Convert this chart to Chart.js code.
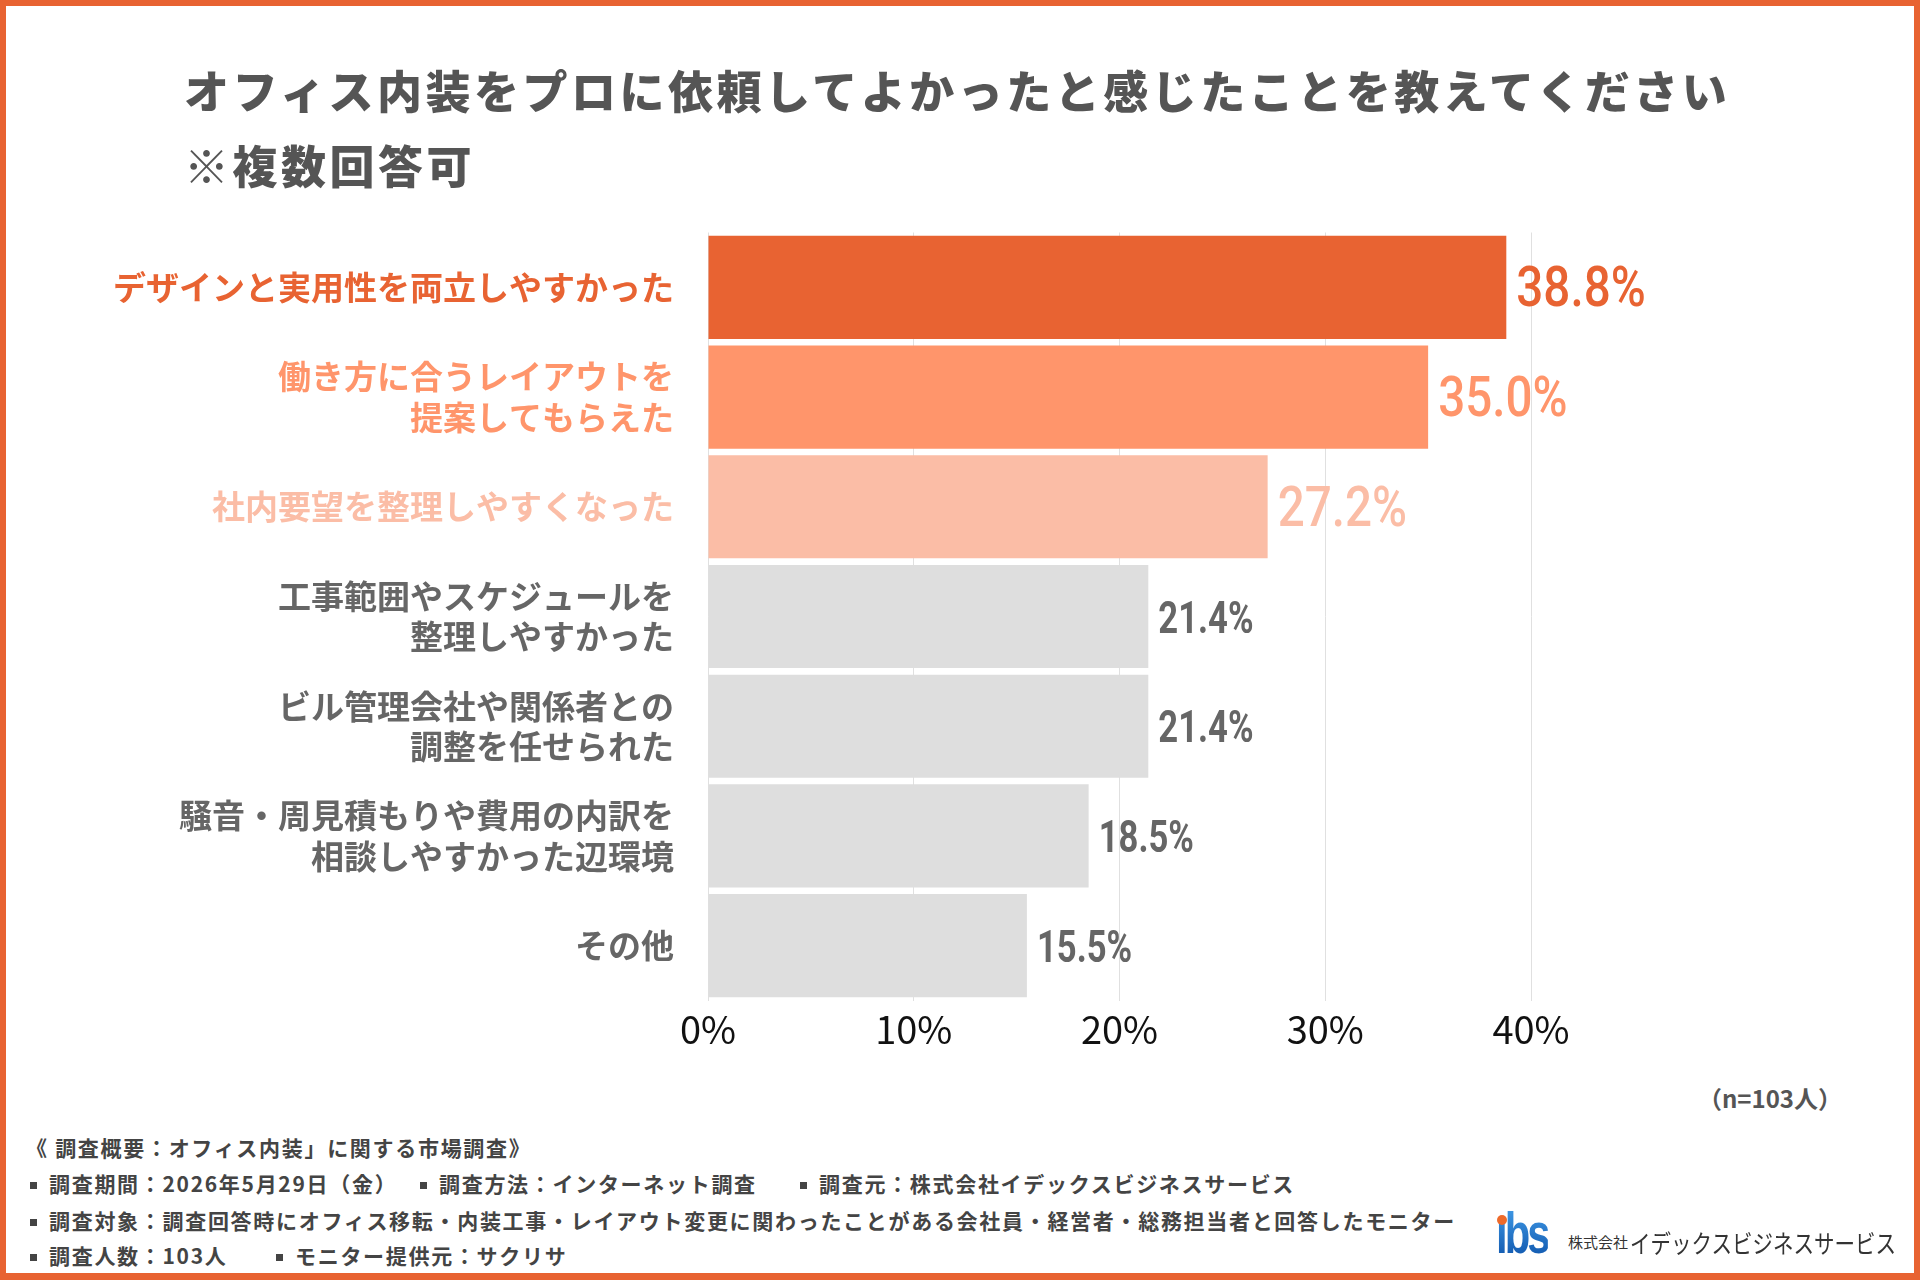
<!DOCTYPE html>
<html lang="ja"><head><meta charset="utf-8">
<script src="https://cdn.jsdelivr.net/npm/chart.js@4.4.1/dist/chart.umd.min.js"></script>
<style>
html,body{margin:0;padding:0;background:#fff;}
#page{position:relative;width:1920px;height:1280px;overflow:hidden;background:#fff;font-family:"Noto Sans CJK JP","Noto Sans",sans-serif;}
#frame{position:absolute;left:0;top:0;width:1920px;height:1280px;box-sizing:border-box;border:6px solid #E86332;border-bottom-width:7px;pointer-events:none;z-index:5;}
#chart{position:absolute;left:0;top:0;}
#title{position:absolute;left:184px;top:52px;font-size:45px;font-weight:900;line-height:75px;letter-spacing:3.5px;color:#555;white-space:nowrap;}
.fl{position:absolute;font-size:21px;font-weight:700;line-height:30px;color:#444;white-space:nowrap;letter-spacing:1.7px;}
.b{display:inline-block;width:7px;height:7px;background:#444;margin:0 12px 0 2px;vertical-align:3px;}
#n{position:absolute;right:78px;top:1083px;font-size:24px;font-weight:700;line-height:30px;color:#555;}
#logo{position:absolute;left:1496px;top:1200px;font-family:"Liberation Sans",sans-serif;font-weight:700;font-size:58px;line-height:66px;letter-spacing:-4px;transform:scaleX(0.72);transform-origin:left center;background:linear-gradient(#46a3ee,#0a4ea6);-webkit-background-clip:text;background-clip:text;color:transparent;}
#dot{position:absolute;left:1497px;top:1215px;width:10px;height:10px;border-radius:50%;background:#ee6a2a;}
#co1{position:absolute;left:1568px;top:1228px;font-size:15px;line-height:28px;color:#333;}
#co2{position:absolute;left:1630px;top:1224px;font-size:25px;line-height:36px;color:#333;transform:scaleX(0.82);transform-origin:left center;white-space:nowrap;}
</style></head>
<body>
<div id="page">
  <canvas id="chart" width="1920" height="1080"></canvas>
  <div id="title">オフィス内装をプロに依頼してよかったと感じたことを教えてください<br>※複数回答可</div>
  <div id="n">（n=103人）</div>
  <div class="fl" style="left:26px;top:1132px;">《 調査概要：オフィス内装」に関する市場調査》</div>
  <div class="fl" style="left:28px;top:1168px;"><span class="b"></span>調査期間：2026年5月29日（金）</div>
  <div class="fl" style="left:418px;top:1168px;"><span class="b"></span>調査方法：インターネット調査</div>
  <div class="fl" style="left:798px;top:1168px;"><span class="b"></span>調査元：株式会社イデックスビジネスサービス</div>
  <div class="fl" style="left:28px;top:1205px;"><span class="b"></span>調査対象：調査回答時にオフィス移転・内装工事・レイアウト変更に関わったことがある会社員・経営者・総務担当者と回答したモニター</div>
  <div class="fl" style="left:28px;top:1240px;"><span class="b"></span>調査人数：103人</div>
  <div class="fl" style="left:274px;top:1240px;"><span class="b"></span>モニター提供元：サクリサ</div>
  <div id="logo">ıbs</div>
  <div id="dot"></div>
  <div id="co1">株式会社</div>
  <div id="co2">イデックスビジネスサービス</div>
  <div id="frame"></div>
</div>
<script>
const categories = [
  'デザインと実用性を両立しやすかった',
  ['働き方に合うレイアウトを', '提案してもらえた'],
  '社内要望を整理しやすくなった',
  ['工事範囲やスケジュールを', '整理しやすかった'],
  ['ビル管理会社や関係者との', '調整を任せられた'],
  ['騒音・周見積もりや費用の内訳を', '相談しやすかった辺環境'],
  'その他'
];
const values = [38.8, 35.0, 27.2, 21.4, 21.4, 18.5, 15.5];
const xTicks = [0, 10, 20, 30, 40];
const barColors = ['#E86332', '#FF956B', '#FBBDA6', '#DEDEDE', '#DEDEDE', '#DEDEDE', '#DEDEDE'];
const textColors = ['#E86332', '#FF956B', '#FBBDA6', '#666666', '#666666', '#666666', '#666666'];

const valueLabels = {
  id: 'valueLabels',
  afterDatasetsDraw(chart) {
    const ctx = chart.ctx;
    const meta = chart.getDatasetMeta(0);
    meta.data.forEach((bar, i) => {
      const hi = i < 3;
      ctx.save();
      ctx.letterSpacing = '0px';
      ctx.font = (hi ? '500 56px' : '700 45px') + ' Roboto';
      ctx.fillStyle = textColors[i];
      ctx.textAlign = 'left';
      ctx.textBaseline = 'middle';
      ctx.translate(bar.x + 10, bar.y);
      ctx.scale(hi ? 0.85 : 0.77, 1);
      ctx.fillText(values[i].toFixed(1) + '%', 0, 5);
      ctx.restore();
    });
  }
};

const canvas = document.getElementById('chart');
const ctx = canvas.getContext('2d');
ctx.letterSpacing = '1.3px';

new Chart(ctx, {
  type: 'bar',
  data: {
    labels: categories,
    datasets: [{
      data: values,
      backgroundColor: barColors,
      borderWidth: 0,
      barPercentage: 0.94,
      categoryPercentage: 1.0
    }]
  },
  options: {
    indexAxis: 'y',
    responsive: false,
    animation: false,
    devicePixelRatio: 1,
    layout: { padding: { top: 232.5, right: 389, bottom: 19.5, left: 0 } },
    plugins: { legend: { display: false }, tooltip: { enabled: false }, title: { display: false } },
    scales: {
      x: {
        min: 0, max: 40,
        afterFit(s) { s.height = 60; },
        afterBuildTicks(s) { s.ticks = xTicks.map(v => ({ value: v })); },
        grid: { color: '#E0E0E0', lineWidth: 1, drawTicks: false },
        border: { display: false },
        ticks: {
          padding: 6,
          color: '#111111',
          font: { family: '"Noto Sans CJK JP"', size: 38, weight: '400' },
          callback: v => v + '%'
        }
      },
      y: {
        afterFit(s) { s.width = 708; },
        grid: { display: false, drawTicks: false },
        border: { display: false },
        ticks: {
          padding: 34,
          autoSkip: false,
          color: c => textColors[c.index],
          font: { family: '"Noto Sans CJK JP"', size: 33, weight: '700', lineHeight: 1.22 }
        }
      }
    }
  },
  plugins: [valueLabels]
});
</script>
</body></html>
